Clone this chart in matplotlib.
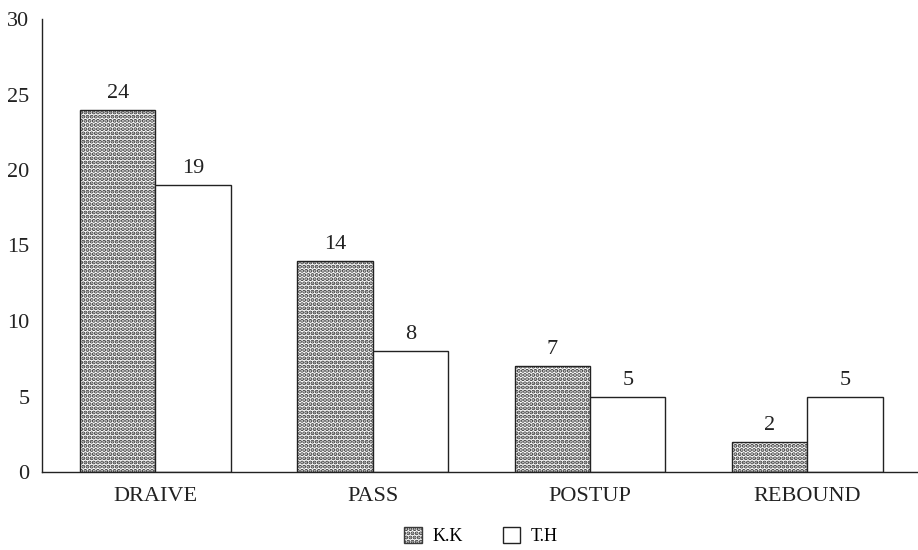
import numpy as np
import matplotlib
matplotlib.use("Agg")
import matplotlib.pyplot as plt
from matplotlib.patches import Patch

plt.rcParams['font.family'] = ['Liberation Serif', 'DejaVu Serif']
plt.rcParams['hatch.linewidth'] = 2.0

categories = ["DRAIVE", "PASS", "POSTUP", "REBOUND"]
kk_values = [24, 14, 7, 2]
th_values = [19, 8, 5, 5]
series_names = ["K.K", "T.H"]

DOT_COLOR = "#3a3a3a"
LINE_COLOR = "#222222"

fig = plt.figure(figsize=(9.18, 5.5), dpi=100)
ax = fig.add_axes([42 / 918, 1 - 472 / 550, 876 / 918, (472 - 19) / 550])

x = np.arange(len(categories))
w = 0.347
# dotted fill for K.K, then an outline on top
ax.bar(x - w / 2, kk_values, w, facecolor="white", edgecolor=DOT_COLOR,
       hatch="....", linewidth=0)
b1 = ax.bar(x - w / 2, kk_values, w, facecolor="none", edgecolor=LINE_COLOR,
            linewidth=1.0)
b2 = ax.bar(x + w / 2, th_values, w, facecolor="white", edgecolor=LINE_COLOR,
            linewidth=1.0)

for bars, vals in ((b1, kk_values), (b2, th_values)):
    for rect, v in zip(bars, vals):
        ax.annotate(str(v), (rect.get_x() + rect.get_width() / 2, v),
                    xytext=(0, 5), textcoords="offset points",
                    ha="center", va="bottom", fontsize=16, color=LINE_COLOR)

ax.set_xlim(-0.522, 3.509)
ax.set_ylim(0, 30)
ax.set_yticks(range(0, 31, 5))
ax.set_xticks(x)
ax.set_xticklabels(categories)
ax.tick_params(axis="both", length=0, labelsize=16, colors=LINE_COLOR)
ax.tick_params(axis="y", pad=9)
ax.tick_params(axis="x", pad=11)
for s in ("top", "right"):
    ax.spines[s].set_visible(False)
for s in ("left", "bottom"):
    ax.spines[s].set_color(LINE_COLOR)
    ax.spines[s].set_linewidth(1.0)

handles = [Patch(facecolor="white", edgecolor=DOT_COLOR, hatch="....", linewidth=1.0),
           Patch(facecolor="white", edgecolor=LINE_COLOR, linewidth=1.0)]
fig.legend(handles, series_names, loc="center", bbox_to_anchor=(481 / 918, 1 - 536 / 550),
           ncol=2, frameon=False, fontsize=13, handlelength=0.95, handleheight=0.95,
           columnspacing=2.2, handletextpad=0.6)

fig.savefig("out.png", dpi=100)
